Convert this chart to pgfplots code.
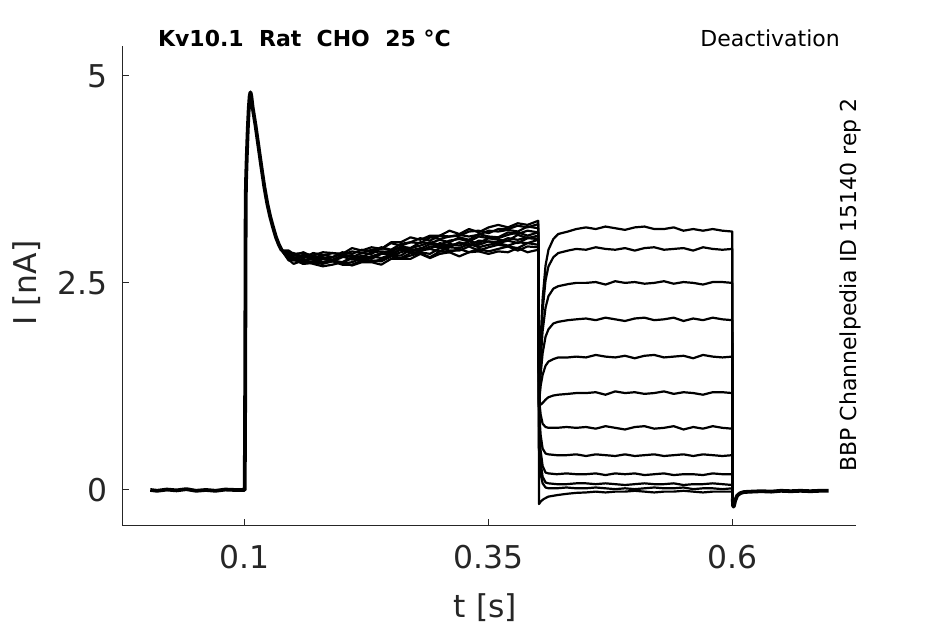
\documentclass[border=0pt]{standalone}
\usepackage{pgfplots}
\pgfplotsset{compat=1.18}
\usepackage{fontspec}
\setmainfont{DejaVu Sans}
\definecolor{axgray}{HTML}{262626}
\pgfplotsset{trace/.style={black, line width=1.1pt, line join=round, no marks},
  common/.style={black, line width=1.9pt, line join=round, no marks}}
\begin{document}
\begin{tikzpicture}
\useasboundingbox (-61pt,-49pt) rectangle (411.5pt,263pt);
\begin{axis}[
  at={(0,0)}, anchor=south west,
  scale only axis, width=367pt, height=240pt,
  xmin=-0.026, xmax=0.727, ymin=-0.435, ymax=5.36,
  axis lines=left, axis line style={-, draw=axgray, line width=0.5pt},
  xtick={0.1,0.35,0.6}, xticklabels={0.1,0.35,0.6},
  ytick={0,2.5,5}, yticklabels={0,2.5,5},
  /pgf/number format/assume math mode=true,
  tick style={draw=axgray, line width=0.5pt}, major tick length=3.6pt, tick align=inside,
  ticklabel style={font=\fontsize{15.7}{18}\selectfont, text=axgray},
  xticklabel style={yshift=-6pt},
  yticklabel style={xshift=-3.8pt},
  xlabel={t [s]}, ylabel={I [nA]},
  label style={font=\fontsize{15.7}{18}\selectfont, text=axgray},
  xlabel style={at={(axis description cs:0.495,-0.19)}, anchor=base},
  ylabel style={at={(axis description cs:-0.13,0.506)}, anchor=center},
  clip=false,
]
% common onset (all sweeps overlap)
\addplot[common] coordinates {(0.003,0)(0.01,-0.01)(0.02,0.005)(0.03,-0.005)(0.04,0.01)(0.05,-0.01)(0.06,0)(0.07,-0.01)(0.08,0.005)(0.09,0)(0.0998,0)(0.1002,0.6)(0.1006,2.2)(0.1009,3.5)(0.1013,3.75)(0.102,4.02)(0.103,4.35)(0.104,4.6)(0.105,4.76)(0.1058,4.8)(0.1066,4.76)(0.108,4.62)(0.111,4.4)(0.114,4.15)(0.117,3.9)(0.12,3.66)(0.123,3.46)(0.126,3.3)(0.129,3.17)(0.132,3.05)(0.135,2.96)(0.138,2.89)};
% sweep A
\addplot[trace] coordinates {(0.138,2.89)(0.145,2.89)(0.15,2.85)(0.16,2.86)(0.17,2.83)(0.18,2.87)(0.19,2.86)(0.2,2.85)(0.21,2.92)(0.22,2.89)(0.23,2.93)(0.24,2.91)(0.25,2.99)(0.26,2.99)(0.27,3.05)(0.28,3.02)(0.29,3.07)(0.3,3.07)(0.31,3.13)(0.32,3.09)(0.33,3.15)(0.34,3.11)(0.35,3.17)(0.36,3.2)(0.37,3.17)(0.38,3.22)(0.39,3.2)(0.401,3.25)
(0.4018,1.0)(0.4035,1.81)(0.4055,2.31)(0.4085,2.71)(0.4115,2.9)(0.4165,3.03)(0.4215,3.09)(0.4315,3.12)(0.44,3.15)
(0.45,3.17)(0.46,3.15)(0.47,3.18)(0.48,3.16)(0.49,3.14)(0.5,3.17)(0.51,3.18)(0.52,3.15)(0.53,3.15)(0.54,3.17)(0.55,3.13)(0.56,3.15)(0.57,3.13)(0.58,3.15)(0.59,3.13)(0.6,3.12)(0.6005,-0.1)};
% sweep B
\addplot[trace] coordinates {(0.138,2.89)(0.145,2.77)(0.15,2.78)(0.16,2.73)(0.17,2.74)(0.18,2.73)(0.19,2.76)(0.2,2.72)(0.21,2.72)(0.22,2.77)(0.23,2.77)(0.24,2.76)(0.25,2.82)(0.26,2.79)(0.27,2.83)(0.28,2.86)(0.29,2.81)(0.3,2.88)(0.31,2.87)(0.32,2.91)(0.33,2.87)(0.34,2.91)(0.35,2.88)(0.36,2.91)(0.37,2.94)(0.38,2.89)(0.39,2.94)(0.401,2.93)
(0.4018,1.0)(0.4035,1.73)(0.4055,2.17)(0.4085,2.53)(0.4115,2.7)(0.4165,2.81)(0.4215,2.86)(0.4315,2.89)(0.44,2.91)
(0.45,2.9)(0.46,2.93)(0.47,2.91)(0.48,2.9)(0.49,2.92)(0.5,2.89)(0.51,2.92)(0.52,2.93)(0.53,2.9)(0.54,2.91)(0.55,2.92)(0.56,2.89)(0.57,2.93)(0.58,2.91)(0.59,2.9)(0.6,2.91)(0.6005,-0.1)};
% sweep C
\addplot[trace] coordinates {(0.138,2.89)(0.145,2.84)(0.15,2.8)(0.16,2.84)(0.17,2.79)(0.18,2.81)(0.19,2.78)(0.2,2.83)(0.21,2.83)(0.22,2.81)(0.23,2.87)(0.24,2.88)(0.25,2.87)(0.26,2.94)(0.27,2.92)(0.28,2.95)(0.29,2.99)(0.3,2.96)(0.31,3.01)(0.32,3.03)(0.33,3.0)(0.34,3.06)(0.35,3.04)(0.36,3.04)(0.37,3.08)(0.38,3.11)(0.39,3.07)(0.401,3.11)
(0.4018,1.0)(0.4035,1.57)(0.4055,1.92)(0.4085,2.2)(0.4115,2.34)(0.4165,2.43)(0.4215,2.46)(0.4315,2.485)(0.44,2.5)
(0.45,2.5)(0.46,2.51)(0.47,2.48)(0.48,2.52)(0.49,2.5)(0.5,2.51)(0.51,2.49)(0.52,2.5)(0.53,2.52)(0.54,2.49)(0.55,2.51)(0.56,2.5)(0.57,2.48)(0.58,2.51)(0.59,2.51)(0.6,2.5)(0.6005,-0.1)};
% sweep D
\addplot[trace] coordinates {(0.138,2.89)(0.145,2.82)(0.15,2.77)(0.16,2.79)(0.17,2.74)(0.18,2.79)(0.19,2.77)(0.2,2.74)(0.21,2.8)(0.22,2.76)(0.23,2.82)(0.24,2.8)(0.25,2.84)(0.26,2.83)(0.27,2.9)(0.28,2.89)(0.29,2.91)(0.3,2.88)(0.31,2.93)(0.32,2.92)(0.33,2.97)(0.34,2.93)(0.35,2.96)(0.36,2.98)(0.37,2.95)(0.38,2.99)(0.39,2.98)(0.401,3.02)
(0.4018,1.0)(0.4035,1.4)(0.4055,1.65)(0.4085,1.85)(0.4115,1.94)(0.4165,2.01)(0.4215,2.03)(0.4315,2.05)(0.44,2.06)
(0.45,2.07)(0.46,2.05)(0.47,2.08)(0.48,2.06)(0.49,2.04)(0.5,2.07)(0.51,2.08)(0.52,2.05)(0.53,2.06)(0.54,2.08)(0.55,2.04)(0.56,2.07)(0.57,2.05)(0.58,2.08)(0.59,2.06)(0.6,2.05)(0.6005,-0.1)};
% sweep E
\addplot[trace] coordinates {(0.138,2.89)(0.145,2.86)(0.15,2.86)(0.16,2.8)(0.17,2.86)(0.18,2.84)(0.19,2.81)(0.2,2.87)(0.21,2.85)(0.22,2.9)(0.23,2.88)(0.24,2.93)(0.25,2.9)(0.26,2.97)(0.27,2.99)(0.28,2.98)(0.29,3.05)(0.3,3.03)(0.31,3.06)(0.32,3.08)(0.33,3.06)(0.34,3.08)(0.35,3.13)(0.36,3.12)(0.37,3.14)(0.38,3.12)(0.39,3.18)(0.401,3.16)
(0.4018,1.05)(0.4035,1.26)(0.4055,1.39)(0.4085,1.5)(0.4115,1.55)(0.4165,1.58)(0.4215,1.6)(0.4315,1.6)(0.44,1.61)
(0.45,1.6)(0.46,1.63)(0.47,1.61)(0.48,1.6)(0.49,1.62)(0.5,1.59)(0.51,1.62)(0.52,1.63)(0.53,1.6)(0.54,1.61)(0.55,1.62)(0.56,1.59)(0.57,1.63)(0.58,1.61)(0.59,1.6)(0.6,1.61)(0.6005,-0.1)};
% sweep F
\addplot[trace] coordinates {(0.138,2.89)(0.145,2.78)(0.15,2.73)(0.16,2.77)(0.17,2.73)(0.18,2.7)(0.19,2.72)(0.2,2.75)(0.21,2.71)(0.22,2.75)(0.23,2.75)(0.24,2.72)(0.25,2.79)(0.26,2.79)(0.27,2.79)(0.28,2.85)(0.29,2.8)(0.3,2.85)(0.31,2.87)(0.32,2.82)(0.33,2.87)(0.34,2.88)(0.35,2.85)(0.36,2.88)(0.37,2.87)(0.38,2.92)(0.39,2.87)(0.401,2.9)
(0.4018,1.1)(0.4035,1.03)(0.4055,1.05)(0.4085,1.09)(0.4115,1.12)(0.4165,1.14)(0.4215,1.15)(0.4315,1.16)(0.44,1.17)
(0.45,1.17)(0.46,1.18)(0.47,1.15)(0.48,1.19)(0.49,1.17)(0.5,1.18)(0.51,1.16)(0.52,1.17)(0.53,1.19)(0.54,1.16)(0.55,1.18)(0.56,1.17)(0.57,1.15)(0.58,1.18)(0.59,1.18)(0.6,1.17)(0.6005,-0.1)};
% sweep G
\addplot[trace] coordinates {(0.138,2.89)(0.145,2.84)(0.15,2.79)(0.16,2.82)(0.17,2.78)(0.18,2.79)(0.19,2.76)(0.2,2.81)(0.21,2.83)(0.22,2.8)(0.23,2.82)(0.24,2.86)(0.25,2.84)(0.26,2.91)(0.27,2.9)(0.28,2.91)(0.29,2.97)(0.3,2.94)(0.31,2.97)(0.32,2.95)(0.33,3.0)(0.34,2.98)(0.35,3.04)(0.36,3.02)(0.37,3.01)(0.38,3.08)(0.39,3.04)(0.401,3.07)
(0.4018,1.2)(0.4025,1.02)(0.4035,0.91)(0.4055,0.8)(0.4085,0.76)(0.4115,0.75)(0.42,0.75)(0.43,0.76)(0.44,0.75)
(0.45,0.76)(0.46,0.74)(0.47,0.77)(0.48,0.75)(0.49,0.73)(0.5,0.76)(0.51,0.77)(0.52,0.74)(0.53,0.75)(0.54,0.77)(0.55,0.73)(0.56,0.76)(0.57,0.74)(0.58,0.77)(0.59,0.75)(0.6,0.74)(0.6005,-0.1)};
% sweep H
\addplot[trace] coordinates {(0.138,2.89)(0.145,2.82)(0.15,2.84)(0.16,2.81)(0.17,2.83)(0.18,2.79)(0.19,2.81)(0.2,2.85)(0.21,2.81)(0.22,2.86)(0.23,2.85)(0.24,2.92)(0.25,2.89)(0.26,2.93)(0.27,2.92)(0.28,2.99)(0.29,2.98)(0.3,3.02)(0.31,2.99)(0.32,3.05)(0.33,3.02)(0.34,3.09)(0.35,3.06)(0.36,3.05)(0.37,3.11)(0.38,3.09)(0.39,3.13)(0.401,3.11)
(0.4018,1.1)(0.4025,0.83)(0.4035,0.66)(0.4055,0.5)(0.4085,0.44)(0.4115,0.43)(0.42,0.42)(0.43,0.42)(0.44,0.43)
(0.45,0.41)(0.46,0.43)(0.47,0.42)(0.48,0.41)(0.49,0.43)(0.5,0.41)(0.51,0.42)(0.52,0.43)(0.53,0.41)(0.54,0.42)(0.55,0.43)(0.56,0.41)(0.57,0.43)(0.58,0.42)(0.59,0.41)(0.6,0.42)(0.6005,-0.1)};
% sweep I
\addplot[trace] coordinates {(0.138,2.89)(0.145,2.8)(0.15,2.79)(0.16,2.73)(0.17,2.76)(0.18,2.74)(0.19,2.77)(0.2,2.73)(0.21,2.75)(0.22,2.8)(0.23,2.76)(0.24,2.78)(0.25,2.83)(0.26,2.8)(0.27,2.86)(0.28,2.87)(0.29,2.85)(0.3,2.92)(0.31,2.89)(0.32,2.89)(0.33,2.94)(0.34,2.89)(0.35,2.93)(0.36,2.96)(0.37,2.94)(0.38,2.92)(0.39,2.98)(0.401,2.96)
(0.4018,1.0)(0.4025,0.68)(0.4035,0.47)(0.4055,0.29)(0.4085,0.21)(0.4115,0.2)(0.42,0.19)(0.43,0.2)(0.44,0.19)
(0.45,0.19)(0.46,0.2)(0.47,0.18)(0.48,0.2)(0.49,0.19)(0.5,0.2)(0.51,0.18)(0.52,0.19)(0.53,0.2)(0.54,0.18)(0.55,0.19)(0.56,0.19)(0.57,0.18)(0.58,0.2)(0.59,0.19)(0.6,0.19)(0.6005,-0.1)};
% sweep J
\addplot[trace] coordinates {(0.138,2.89)(0.145,2.87)(0.15,2.83)(0.16,2.87)(0.17,2.81)(0.18,2.83)(0.19,2.86)(0.2,2.84)(0.21,2.88)(0.22,2.86)(0.23,2.9)(0.24,2.91)(0.25,2.98)(0.26,2.95)(0.27,2.99)(0.28,3.04)(0.29,3.01)(0.3,3.07)(0.31,3.06)(0.32,3.07)(0.33,3.12)(0.34,3.13)(0.35,3.1)(0.36,3.15)(0.37,3.15)(0.38,3.19)(0.39,3.17)(0.401,3.21)
(0.4018,0.8)(0.4025,0.51)(0.4035,0.33)(0.4055,0.16)(0.4085,0.09)(0.4115,0.08)(0.42,0.07)(0.43,0.07)(0.44,0.08)
(0.45,0.08)(0.46,0.07)(0.47,0.08)(0.48,0.07)(0.49,0.06)(0.5,0.07)(0.51,0.08)(0.52,0.07)(0.53,0.07)(0.54,0.08)(0.55,0.06)(0.56,0.07)(0.57,0.07)(0.58,0.08)(0.59,0.07)(0.6,0.06)(0.6005,-0.1)};
% sweep K
\addplot[trace] coordinates {(0.138,2.89)(0.145,2.8)(0.15,2.81)(0.16,2.75)(0.17,2.76)(0.18,2.79)(0.19,2.77)(0.2,2.75)(0.21,2.81)(0.22,2.78)(0.23,2.8)(0.24,2.86)(0.25,2.83)(0.26,2.87)(0.27,2.9)(0.28,2.88)(0.29,2.94)(0.3,2.93)(0.31,2.93)(0.32,2.99)(0.33,2.96)(0.34,2.96)(0.35,3.0)(0.36,2.98)(0.37,3.01)(0.38,2.98)(0.39,3.04)(0.401,3.03)
(0.4018,0.5)(0.4025,0.31)(0.4035,0.19)(0.4055,0.08)(0.4085,0.03)(0.4115,0.02)(0.42,0.02)(0.43,0.03)(0.44,0.02)
(0.45,0.02)(0.46,0.03)(0.47,0.02)(0.48,0.01)(0.49,0.02)(0.5,0.01)(0.51,0.02)(0.52,0.03)(0.53,0.02)(0.54,0.02)(0.55,0.03)(0.56,0.01)(0.57,0.02)(0.58,0.02)(0.59,0.01)(0.6,0.02)(0.6005,-0.1)};
% sweep L
\addplot[trace] coordinates {(0.138,2.89)(0.145,2.8)(0.15,2.81)(0.16,2.77)(0.17,2.8)(0.18,2.75)(0.19,2.77)(0.2,2.82)(0.21,2.78)(0.22,2.83)(0.23,2.79)(0.24,2.85)(0.25,2.85)(0.26,2.9)(0.27,2.87)(0.28,2.92)(0.29,2.91)(0.3,2.98)(0.31,2.95)(0.32,2.98)(0.33,2.95)(0.34,3.01)(0.35,3.0)(0.36,2.99)(0.37,3.04)(0.38,3.02)(0.39,3.05)(0.401,3.03)
(0.4018,-0.17)(0.4035,-0.14)(0.4065,-0.11)(0.4115,-0.08)(0.4215,-0.06)(0.4315,-0.045)(0.44,-0.035)
(0.45,-0.03)(0.46,-0.02)(0.47,-0.03)(0.48,-0.02)(0.49,-0.02)(0.5,-0.01)(0.51,-0.02)(0.52,-0.03)(0.53,-0.02)(0.54,-0.02)(0.55,-0.01)(0.56,-0.02)(0.57,-0.03)(0.58,-0.02)(0.59,-0.02)(0.6,-0.02)(0.6005,-0.1)};
% common offset after the pulse
\addplot[common] coordinates {(0.6005,-0.1)(0.601,-0.2)(0.6016,-0.2)(0.603,-0.13)(0.605,-0.07)(0.608,-0.04)(0.612,-0.025)(0.62,-0.02)(0.63,-0.015)(0.64,-0.02)(0.65,-0.01)(0.66,-0.015)(0.67,-0.01)(0.68,-0.015)(0.69,-0.01)(0.699,-0.01)};

\node[anchor=base west, font=\bfseries\fontsize{11}{13}\selectfont] at (rel axis cs:0.0395,0.998) {Kv10.1~~Rat~~CHO~~25~°C};
\node[anchor=base east, font=\fontsize{11}{13}\selectfont] at (rel axis cs:0.9875,0.998) {Deactivation};
\node[rotate=90, anchor=center, font=\fontsize{11}{13}\selectfont] at (rel axis cs:0.993,0.502) {BBP Channelpedia ID 15140 rep 2};
\end{axis}
\end{tikzpicture}
\end{document}
